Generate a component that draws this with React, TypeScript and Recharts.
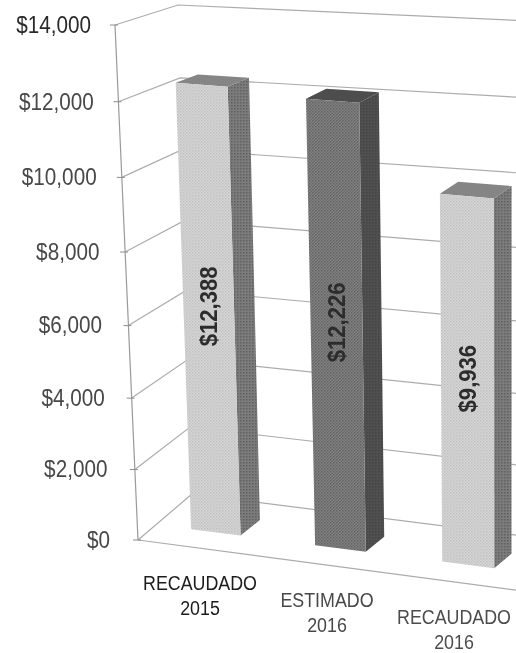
import React from 'react';
import { BarChart, Bar, XAxis, YAxis, CartesianGrid, LabelList } from 'recharts';

const categories = ['RECAUDADO 2015', 'ESTIMADO 2016', 'RECAUDADO 2016'];
const values = [12388, 12226, 9936];
const valueTicks = [0, 2000, 4000, 6000, 8000, 10000, 12000, 14000];
const labelColors = ['#1c1c1c', '#484848', '#4c4c4c'];

const data = categories.map((name, i) => ({ name, value: values[i] }));

const WIDTH = 516;
const HEIGHT = 653;
// plot rectangle recharts works in, before it is put in perspective
const PLOT = { left: 60, right: 500, top: 20, bottom: 593 };

type Pt = [number, number];
type Quad = { bl: Pt; br: Pt; tl: Pt; tr: Pt };

const barFront: Quad = { bl: [154.5, 524.5], br: [533, 573.3], tl: [135, 22], tr: [535, 50] };
const barBack: Quad = { bl: [174.5, 508.5], br: [550, 559], tl: [158, 15], tr: [552, 38] };
const backWall: Quad = { bl: [192, 494], br: [530, 537], tl: [178, 5], tr: [530, 21] };

const axisBottom: Pt = [138, 540];
const axisTop: Pt = [115, 25];
const floorEnd: Pt = [530, 592];
const labelStart: Pt = [136.5, 574.5];
const labelEnd: Pt = [517.5, 625.5];

const mix = (a: Pt, b: Pt, t: number): Pt => [a[0] + (b[0] - a[0]) * t, a[1] + (b[1] - a[1]) * t];
const project = (q: Quad, u: number, v: number): Pt => mix(mix(q.bl, q.br, u), mix(q.tl, q.tr, u), v);
const toU = (x: number) => {
  const u = (x - PLOT.left) / (PLOT.right - PLOT.left);
  return u - 0.037 * u * (1 - u);
};
const toV = (y: number) => (PLOT.bottom - y) / (PLOT.bottom - PLOT.top);
// walls get a little foreshortening
const ease = (v: number) => v - 0.05 * v * (1 - v);
const poly = (pts: Pt[]) => pts.map((p) => p.map((n) => n.toFixed(1)).join(',')).join(' ');

const BarShape = (props: any) => {
  const { x, y, width, index } = props;
  const u0 = toU(x);
  const u1 = toU(x + width);
  const v = toV(y);
  const dark = index === 1;
  const front = dark ? 'url(#darkFront)' : 'url(#lightFront)';
  const side = dark ? 'url(#darkSide)' : 'url(#midSide)';
  const top = dark ? '#4d4d4d' : '#858585';
  return (
    <g>
      <polygon
        points={poly([project(barFront, u1, 0), project(barBack, u1, 0), project(barBack, u1, v), project(barFront, u1, v)])}
        fill={side}
      />
      <polygon
        points={poly([project(barFront, u0, v), project(barFront, u1, v), project(barBack, u1, v), project(barBack, u0, v)])}
        fill={top}
      />
      <polygon
        points={poly([project(barFront, u0, 0), project(barFront, u1, 0), project(barFront, u1, v), project(barFront, u0, v)])}
        fill={front}
      />
    </g>
  );
};

const ValueLabel = (props: any) => {
  const { x, y, width, value } = props;
  const [px, py] = project(barFront, toU(x + width / 2), toV(y) * 0.505);
  return (
    <text
      transform={`translate(${px} ${py}) rotate(-90) scale(0.92 1)`}
      textAnchor="middle"
      dominantBaseline="central"
      fontFamily="Liberation Sans"
      fontSize={24}
      fontWeight={700}
      fill="#2c2c2c"
    >
      ${value.toLocaleString('en-US')}
    </text>
  );
};

const ValueTick = (props: any) => {
  const { y, payload } = props;
  const v = toV(y);
  const [ax, ay] = mix(axisBottom, axisTop, ease(v));
  return (
    <g>
      <line x1={ax - 5} y1={ay} x2={ax + 3} y2={ay} stroke="#8c8c8c" strokeWidth={1} />
      <text
        transform={`translate(${ax - 24 - 4 * (1 - v)} ${ay}) scale(0.9 1)`}
        textAnchor="end"
        dominantBaseline="central"
        fontFamily="Liberation Sans"
        fontSize={23}
        fill={v > 0.99 ? '#2a2a2a' : '#484848'}
      >
        ${payload.value.toLocaleString('en-US')}
      </text>
    </g>
  );
};

const CategoryTick = (props: any) => {
  const { x, payload, index } = props;
  const [px, py] = mix(labelStart, labelEnd, (x - PLOT.left) / (PLOT.right - PLOT.left));
  const parts = payload.value.split(' ');
  return (
    <g fontFamily="Liberation Sans" fontSize={20.5} textAnchor="middle" fill={labelColors[index]}>
      <text transform={`translate(${px} ${py}) scale(0.87 1)`} dominantBaseline="central">{parts[0]}</text>
      <text transform={`translate(${px} ${py + 25}) scale(0.87 1)`} dominantBaseline="central">{parts[1]}</text>
    </g>
  );
};

const GridLine = (props: any) => {
  const v = ease(toV(props.y1));
  const isFloor = toV(props.y1) < 0.001;
  return (
    <g fill="none" stroke="#acacac" strokeWidth={1.2}>
      <polyline points={poly([mix(axisBottom, axisTop, v), project(backWall, 0, v), project(backWall, 1, v)])} />
      {isFloor && <polyline points={poly([axisBottom, floorEnd])} />}
      {isFloor && <polyline points={poly([axisBottom, axisTop])} stroke="#9a9a9a" />}
    </g>
  );
};

const App = () => {
  return (
    <div style={{ position: 'absolute', left: 0, top: 0, width: WIDTH, height: HEIGHT, overflow: 'hidden', background: '#fff', filter: 'blur(0.45px)' }}>
      <BarChart
        width={WIDTH}
        height={HEIGHT}
        data={data}
        margin={{ top: PLOT.top, right: WIDTH - PLOT.right, left: 0, bottom: 0 }}
        barCategoryGap="30%"
      >
        <defs>
          <pattern id="lightFront" width="3" height="3" patternUnits="userSpaceOnUse">
            <rect width="3" height="3" fill="#d6d6d6" />
            <rect width="1.5" height="1.5" fill="#c0c0c0" />
            <rect x="1.5" y="1.5" width="1.5" height="1.5" fill="#c8c8c8" />
          </pattern>
          <pattern id="darkFront" width="3" height="3" patternUnits="userSpaceOnUse">
            <rect width="3" height="3" fill="#828282" />
            <rect width="1.5" height="1.5" fill="#626262" />
            <rect x="1.5" y="1.5" width="1.5" height="1.5" fill="#6c6c6c" />
          </pattern>
          <pattern id="midSide" width="3" height="3" patternUnits="userSpaceOnUse">
            <rect width="3" height="3" fill="#7c7c7c" />
            <rect width="1.5" height="1.5" fill="#606060" />
          </pattern>
          <pattern id="darkSide" width="3" height="3" patternUnits="userSpaceOnUse">
            <rect width="3" height="3" fill="#505050" />
            <rect width="1.5" height="1.5" fill="#444444" />
          </pattern>
        </defs>
        <CartesianGrid vertical={false} horizontal={GridLine} syncWithTicks />
        <XAxis dataKey="name" height={60} axisLine={false} tickLine={false} interval={0} tick={CategoryTick} />
        <YAxis width={60} domain={[0, 14000]} ticks={valueTicks} axisLine={false} tickLine={false} interval={0} tick={ValueTick} />
        <Bar dataKey="value" shape={BarShape} isAnimationActive={false}>
          <LabelList dataKey="value" content={ValueLabel} />
        </Bar>
      </BarChart>
    </div>
  );
};

export default App;
